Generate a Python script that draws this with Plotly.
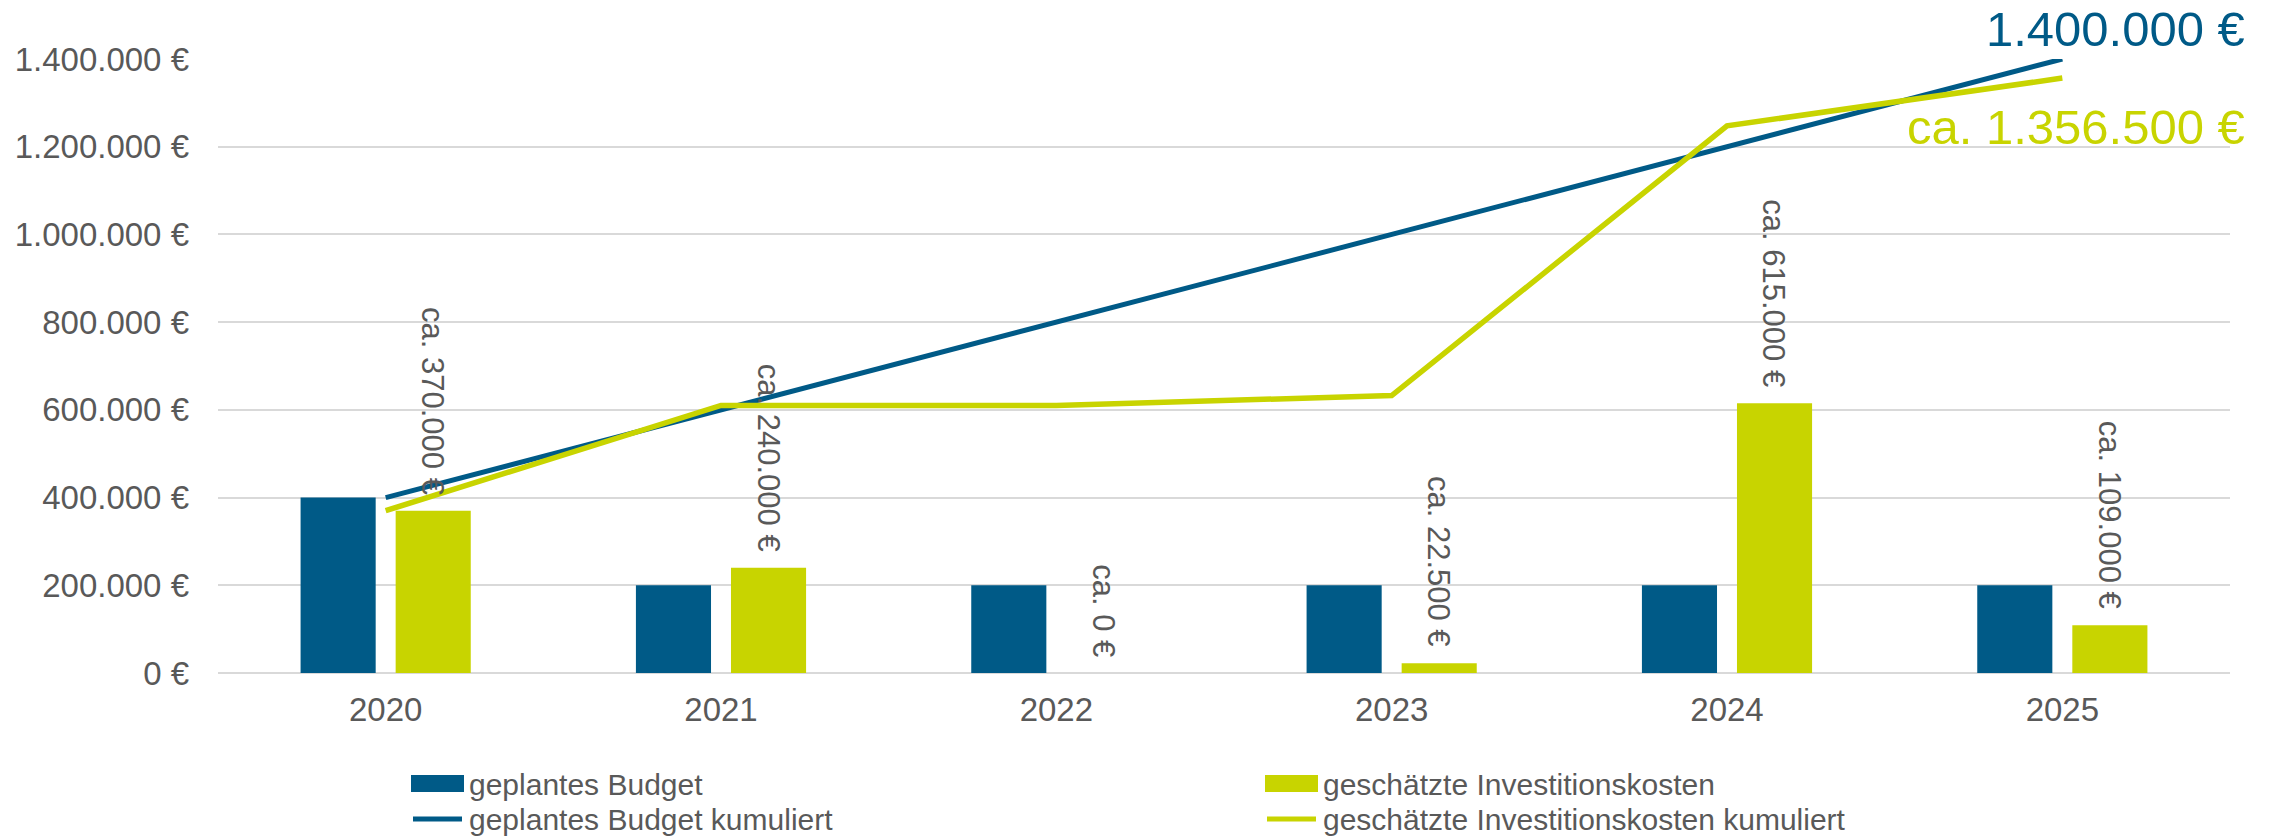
import plotly.graph_objects as go

# ---- data -------------------------------------------------------------
years = ["2020", "2021", "2022", "2023", "2024", "2025"]
budget = [400000, 200000, 200000, 200000, 200000, 200000]
costs = [370000, 240000, 0, 22500, 615000, 109000]
budget_cum = [400000, 600000, 800000, 1000000, 1200000, 1400000]
costs_cum = [370000, 610000, 610000, 632500, 1247500, 1356500]

names = [
    "geplantes Budget",
    "geschätzte Investitionskosten",
    "geplantes Budget kumuliert",
    "geschätzte Investitionskosten kumuliert",
]

# ---- style ------------------------------------------------------------
BLUE = "#005A87"
GREEN = "#C8D400"
GREY_TEXT = "#595959"
GRID = "#D9D9D9"
FONT = "Liberation Sans, Arial, sans-serif"

W, H = 2280, 840
ML, MR, MT, MB = 218, 50, 59, 167
PW = W - ML - MR
PH = H - MT - MB


def px_x(x):
    return (x - ML) / PW


def px_y(y):
    return (H - MB - y) / PH


def euro(v):
    return f"{v:,.0f}".replace(",", ".") + " €"


fig = go.Figure()

fig.add_bar(x=years, y=budget, name=names[0], marker=dict(color=BLUE, line_width=0),
            showlegend=False)
fig.add_bar(x=years, y=costs, name=names[1], marker=dict(color=GREEN, line_width=0),
            showlegend=False)
fig.add_scatter(x=years, y=budget_cum, name=names[2], mode="lines",
                line=dict(color=BLUE, width=5), cliponaxis=False, showlegend=False)
fig.add_scatter(x=years, y=costs_cum, name=names[3], mode="lines",
                line=dict(color=GREEN, width=5.5), cliponaxis=False, showlegend=False)

# rotated value labels above the cost bars (x given as category index)
for i, v in enumerate(costs):
    fig.add_annotation(
        x=i, y=v, xref="x", yref="y", text="ca. " + euro(v), textangle=90,
        showarrow=False, xanchor="center", yanchor="bottom", xshift=47, yshift=14,
        font=dict(family=FONT, size=31, color=GREY_TEXT),
    )

# totals at the end of the cumulative lines
last = len(years) - 1
fig.add_annotation(
    x=last, y=budget_cum[-1], xref="x", yref="y", text=euro(budget_cum[-1]),
    showarrow=False, xanchor="right", yanchor="middle", xshift=185, yshift=30,
    font=dict(family=FONT, size=49, color=BLUE),
)
fig.add_annotation(
    x=last, y=costs_cum[-1], xref="x", yref="y", text="ca. " + euro(costs_cum[-1]),
    showarrow=False, xanchor="right", yanchor="middle", xshift=185, yshift=-49,
    font=dict(family=FONT, size=49, color=GREEN),
)

# legend (two columns, two rows)
legend_items = [
    (names[0], BLUE, "rect", 411, 784),
    (names[1], GREEN, "rect", 1265, 784),
    (names[2], BLUE, "line", 411, 819),
    (names[3], GREEN, "line", 1265, 819),
]
for label, color, kind, lx, ly in legend_items:
    if kind == "rect":
        fig.add_shape(type="rect", xref="paper", yref="paper",
                      x0=px_x(lx), x1=px_x(lx + 53), y0=px_y(ly + 8), y1=px_y(ly - 9),
                      fillcolor=color, line_width=0)
    else:
        fig.add_shape(type="line", xref="paper", yref="paper",
                      x0=px_x(lx + 2), x1=px_x(lx + 51), y0=px_y(ly), y1=px_y(ly),
                      line=dict(color=color, width=5))
    fig.add_annotation(
        x=px_x(lx + 56), y=px_y(ly), xref="paper", yref="paper", text=label,
        showarrow=False, xanchor="left", yanchor="middle",
        font=dict(family=FONT, size=30, color=GREY_TEXT),
    )

fig.update_layout(
    width=W, height=H,
    margin=dict(l=ML, r=MR, t=MT, b=MB, pad=0),
    paper_bgcolor="white", plot_bgcolor="white",
    barmode="group", bargap=0.433, bargroupgap=0.21,
    separators=",.",
    font=dict(family=FONT, color=GREY_TEXT),
    showlegend=False,
)
fig.update_xaxes(
    type="category", range=[-0.5, len(years) - 0.5], autorange=False,
    showgrid=False, showline=False, zeroline=False, ticks="",
    tickfont=dict(family=FONT, size=33, color=GREY_TEXT), ticklabelstandoff=14,
)
fig.update_yaxes(
    range=[0, 1400000], autorange=False, dtick=200000, tickformat=",d", ticksuffix=" €",
    showgrid=True, gridcolor=GRID, gridwidth=2,
    zeroline=True, zerolinecolor=GRID, zerolinewidth=2, showline=False, ticks="",
    tickfont=dict(family=FONT, size=33, color=GREY_TEXT), ticklabelstandoff=28,
)

fig.write_html("out.html")
